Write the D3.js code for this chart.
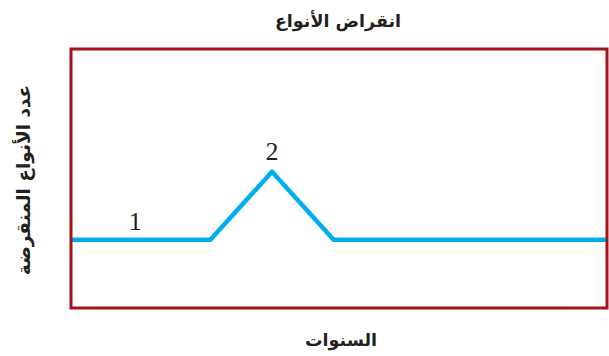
<!DOCTYPE html>
<html>
<head>
<meta charset="utf-8">
<script src="https://cdn.jsdelivr.net/npm/d3@7"></script>
<style>
  body { margin: 0; background: #fff; }
  svg { display: block; }
</style>
</head>
<body>
<svg id="chart" width="609" height="356"></svg>
<script>
// line points (years on x, relative count on y)
const years = [0, 26, 37.5, 49, 100];
const extinct = [1, 1, 2, 1, 1];
// numbered markers
const markYears = [12, 37.5];
const markValues = [1, 2];
const markLabels = ['1', '2'];

const title = 'انقراض الأنواع';
const xTitle = 'السنوات';
const yTitle = 'عدد الأنواع المنقرضة';

const margin = { top: 49, right: 2, bottom: 48, left: 71 };
const W = 609, H = 356;
const w = W - margin.left - margin.right;
const h = H - margin.top - margin.bottom;

const svg = d3.select('#chart');
const g = svg.append('g')
    .attr('transform', 'translate(' + margin.left + ',' + margin.top + ')');

const xScale = d3.scaleLinear().domain([0, 100]).range([0, w]);
const yScale = d3.scaleLinear().domain([0, 3.8]).range([h, 0]);

const line = d3.line()
    .x(d => xScale(d[0]))
    .y(d => yScale(d[1]));

g.append('path')
    .datum(d3.zip(years, extinct))
    .attr('d', line)
    .attr('fill', 'none')
    .attr('stroke', '#00AEEF')
    .attr('stroke-width', 4.5)
    .attr('stroke-linejoin', 'round');

g.selectAll('.mark')
    .data(markLabels)
    .enter()
    .append('text')
    .attr('class', 'mark')
    .attr('x', (d, i) => xScale(markYears[i]))
    .attr('y', (d, i) => yScale(markValues[i]) - (i === 1 ? 12 : 10))
    .attr('text-anchor', 'middle')
    .style('font-family', '"Liberation Serif", serif')
    .style('font-size', '26px')
    .attr('fill', '#231f20')
    .text(d => d);

// frame
g.append('rect')
    .attr('x', 0)
    .attr('y', 0)
    .attr('width', w)
    .attr('height', h)
    .attr('fill', 'none')
    .attr('stroke', '#A0151B')
    .attr('stroke-width', 3);

const arabic = '"DejaVu Sans", sans-serif';

svg.append('text')
    .attr('x', 338)
    .attr('y', 27)
    .attr('text-anchor', 'middle')
    .style('font-family', arabic)
    .style('font-weight', 'bold')
    .style('font-size', '17.5px')
    .attr('fill', '#231f20')
    .text(title);

svg.append('text')
    .attr('x', 341)
    .attr('y', 346)
    .attr('text-anchor', 'middle')
    .style('font-family', arabic)
    .style('font-weight', 'bold')
    .style('font-size', '17.5px')
    .attr('fill', '#231f20')
    .text(xTitle);

svg.append('text')
    .attr('transform', 'translate(30,180) rotate(-90)')
    .attr('text-anchor', 'middle')
    .style('font-family', arabic)
    .style('font-weight', 'bold')
    .style('font-size', '18.5px')
    .attr('fill', '#231f20')
    .text(yTitle);
</script>
</body>
</html>
